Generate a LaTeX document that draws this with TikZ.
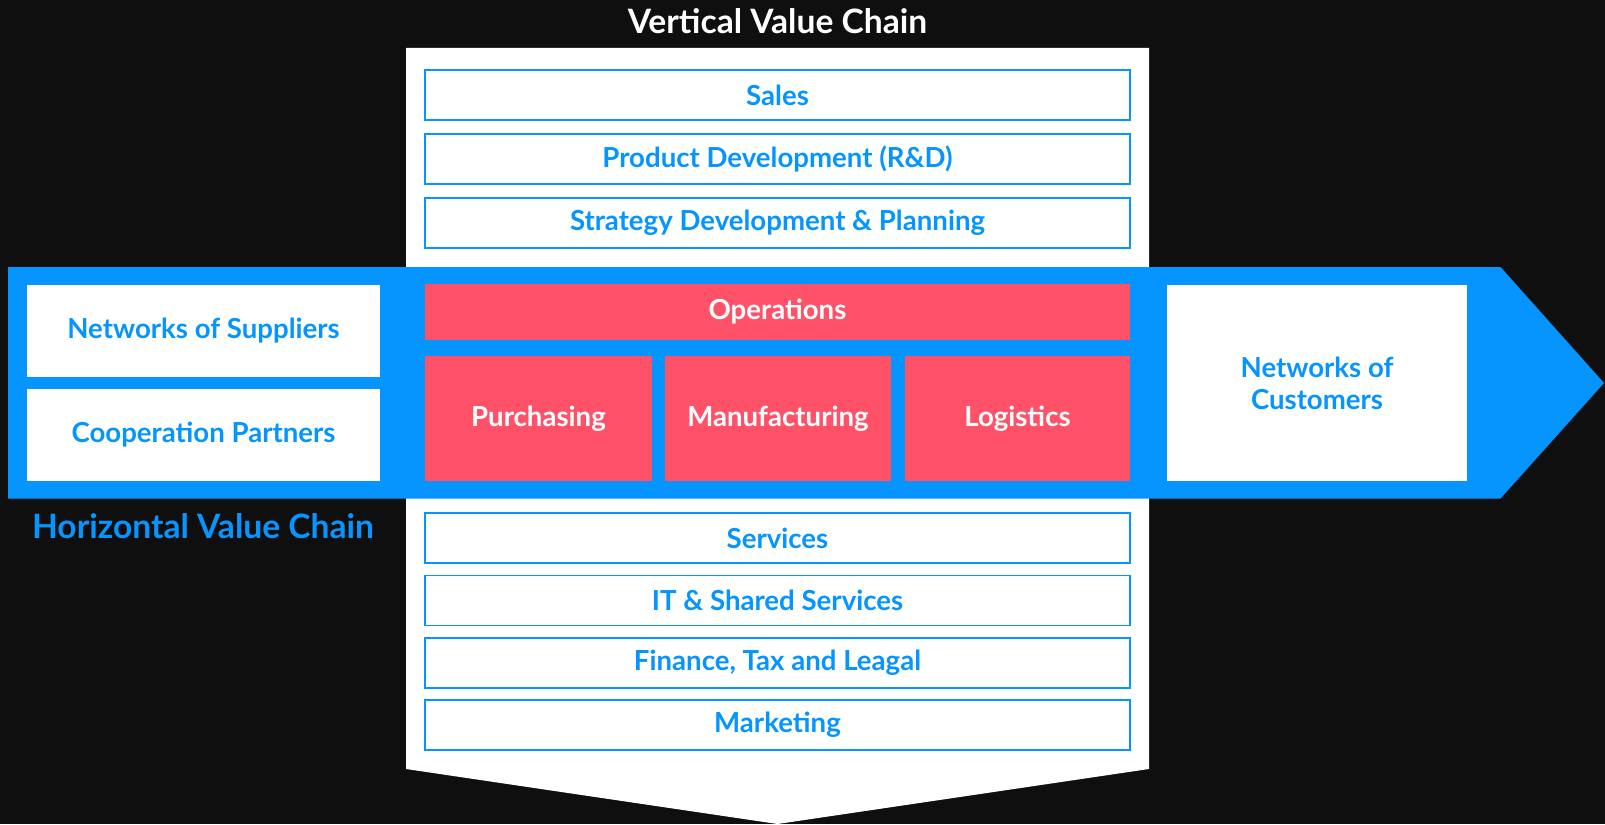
\documentclass[tikz,border=0pt]{standalone}
\usepackage{fontspec}
\setmainfont{Lato}
\usepackage{tikz}
\usetikzlibrary{positioning,calc,shapes}

\definecolor{bgdark}{RGB}{15,15,15}
\definecolor{chainblue}{RGB}{6,149,255}
\definecolor{opsred}{RGB}{255,82,105}

\tikzset{
  unitbox/.style={draw=chainblue, line width=0.6pt, fill=white, text=chainblue,
    minimum width=352.5pt, minimum height=25pt, inner sep=0pt, font=\bfseries\fontsize{13.8}{16}\selectfont},
  opsbox/.style={fill=opsred, text=white, inner sep=0pt, font=\bfseries\fontsize{13.8}{16}\selectfont},
  partnerbox/.style={fill=white, text=chainblue, inner sep=0pt, align=center,
    font=\bfseries\fontsize{13.8}{16}\selectfont},
  chaintitle/.style={font=\bfseries\fontsize{16.8}{19}\selectfont}
}

\begin{document}
\begin{tikzpicture}[x=0.5pt,y=-0.5pt]
\fill[bgdark] (0,0) rectangle (1605,824);
\useasboundingbox (0,0) rectangle (1605,824);

% vertical chain
\fill[white] (406,48) -- (1149,48) -- (1149,769) -- (777.5,824) -- (406,769) -- cycle;
\node[chaintitle, text=white] (vtitle) at (777.5,21) {Vertical Value Chain};

\node[unitbox] (sales) at (777.5,95) {Sales};
\node[unitbox] (rnd) at (777.5,159) {Product Development (R\&D)};
\node[unitbox] (strategy) at (777.5,223) {Strategy Development \& Planning};

\node[unitbox] (services) at (777.5,538) {Services};
\node[unitbox] (itshared) at (777.5,600.5) {IT \& Shared Services};
\node[unitbox] (finance) at (777.5,663) {Finance, Tax and Leagal};
\node[unitbox] (marketing) at (777.5,725) {Marketing};

% horizontal chain
\fill[chainblue] (8,267) -- (1500.5,267) -- (1604,383) -- (1500.5,498.5) -- (8,498.5) -- cycle;
\node[chaintitle, text=chainblue, anchor=west] (htitle) at (25,526) {Horizontal Value Chain};

\node[partnerbox, minimum width=176.5pt, minimum height=46pt] (suppliers) at (203.5,331) {Networks of Suppliers};
\node[partnerbox, minimum width=176.5pt, minimum height=46pt] (partners) at (203.5,435) {Cooperation Partners};
\node[partnerbox, minimum width=150pt, minimum height=98pt] (customers) at (1317,383) {Networks of\\Customers};

\node[opsbox, minimum width=352.5pt, minimum height=27.75pt] (operations) at (777.5,312) {Operations};
\node[opsbox, minimum width=113.5pt, minimum height=62.5pt] (purchasing) at (538.5,418.5) {Purchasing};
\node[opsbox, minimum width=112.75pt, minimum height=62.5pt] (manufacturing) at (778,418.5) {Manufacturing};
\node[opsbox, minimum width=112.5pt, minimum height=62.5pt] (logistics) at (1017.5,418.5) {Logistics};

\end{tikzpicture}
\end{document}
